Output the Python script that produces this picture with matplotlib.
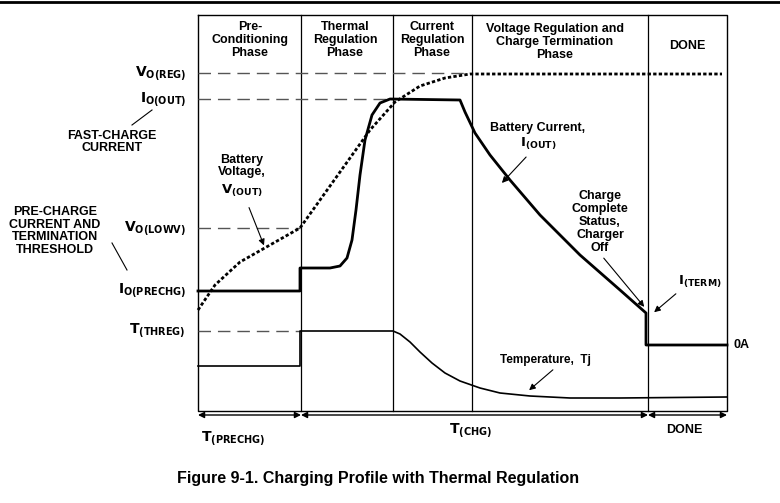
import matplotlib.pyplot as plt

plt.rcParams['font.family'] = ['Liberation Sans', 'DejaVu Sans']

# drawing works in picture pixels (x right, y down)
box_x = [198, 727]
box_y = [15, 411]
dividers = [301, 393, 472, 648]

volt_x = [198, 215, 240, 270, 300, 320, 345, 370, 395, 420, 445, 470, 722]
volt_y = [310, 285, 262, 245, 228, 200, 165, 130, 102, 86, 78, 74, 74]

curr_x = [198, 300, 300, 330, 340, 347, 352, 356, 360, 365, 372, 380, 390, 460, 465, 475, 490, 510, 540, 580, 620, 646, 646, 727]
curr_y = [291, 291, 268, 268, 266, 258, 240, 210, 175, 140, 115, 103, 99, 100, 112, 133, 155, 180, 215, 255, 290, 313, 345, 345]

temp_x = [198, 300, 300, 393, 400, 410, 420, 432, 445, 460, 480, 500, 530, 570, 620, 727]
temp_y = [366, 366, 331, 331, 334, 342, 352, 363, 373, 381, 388, 393, 396, 398, 398, 397]

fig = plt.figure(figsize=(7.8, 5.03), dpi=100)
ax = fig.add_axes([0, 0, 1, 1])
ax.set_xlim(0, 780)
ax.set_ylim(503, 0)
ax.axis('off')

ax.plot([0, 780], [2, 2], color='black', lw=2)
ax.plot([box_x[0], box_x[1], box_x[1], box_x[0], box_x[0]],
        [box_y[0], box_y[0], box_y[1], box_y[1], box_y[0]], color='black', lw=1)
for d in dividers:
    ax.plot([d, d], box_y, color='black', lw=0.9)

dash = dict(color='#555555', lw=1, dashes=(9, 5))
ax.plot([198, 470], [73, 73], **dash)
ax.plot([198, 390], [99, 99], **dash)
ax.plot([198, 300], [228, 228], **dash)
ax.plot([198, 300], [331, 331], **dash)

ax.plot(volt_x, volt_y, color='black', lw=2, ls=(0, (1.2, 0.8)))
ax.plot(curr_x, curr_y, color='black', lw=2)
ax.plot(temp_x, temp_y, color='black', lw=1.2)

bold = dict(fontweight='bold', fontsize=9, ha='center', va='center', linespacing=1.1)
ax.text(250, 40, 'Pre-\nConditioning\nPhase', **bold)
ax.text(345, 40, 'Thermal\nRegulation\nPhase', **bold)
ax.text(432, 40, 'Current\nRegulation\nPhase', **bold)
ax.text(555, 42, 'Voltage Regulation and\nCharge Termination\nPhase', **bold)
ax.text(687, 46, 'DONE', **bold)

ax.text(186, 73, r'$\mathbf{V_{O(REG)}}$', fontsize=10, ha='right', va='center')
ax.text(186, 99, r'$\mathbf{I_{O(OUT)}}$', fontsize=10, ha='right', va='center')
ax.text(186, 228, r'$\mathbf{V_{O(LOWV)}}$', fontsize=10, ha='right', va='center')
ax.text(186, 291, r'$\mathbf{I_{O(PRECHG)}}$', fontsize=10, ha='right', va='center')
ax.text(186, 331, r'$\mathbf{T_{(THREG)}}$', fontsize=10, ha='right', va='center')
ax.text(112, 142, 'FAST-CHARGE\nCURRENT', **bold)
ax.text(55, 231, 'PRE-CHARGE\nCURRENT AND\nTERMINATION\nTHRESHOLD', **bold)
ax.text(242, 166, 'Battery\nVoltage,', **bold)
ax.text(242, 191, r'$\mathbf{V_{(OUT)}}$', fontsize=9.5, ha='center', va='center')
ax.text(538, 128, 'Battery Current,', **bold)
ax.text(538, 144, r'$\mathbf{I_{(OUT)}}$', fontsize=9.5, ha='center', va='center')
ax.text(600, 222, 'Charge\nComplete\nStatus,\nCharger\nOff', **bold)
ax.text(700, 282, r'$\mathbf{I_{(TERM)}}$', fontsize=9.5, ha='center', va='center')
ax.text(741, 345, '0A', **bold)
ax.text(545, 360, 'Temperature,  Tj', fontweight='bold', fontsize=8.5, ha='center', va='center')

ax.plot([152, 132], [110, 125], color='black', lw=0.8)
ax.plot([112, 127], [243, 270], color='black', lw=0.8)
arr = dict(arrowstyle='-|>', color='black', lw=0.8, mutation_scale=9)
ax.annotate('', xy=(265, 248), xytext=(248, 205), arrowprops=arr)
ax.annotate('', xy=(500, 185), xytext=(528, 155), arrowprops=arr)
ax.annotate('', xy=(646, 309), xytext=(602, 256), arrowprops=arr)
ax.annotate('', xy=(652, 314), xytext=(678, 292), arrowprops=arr)
ax.annotate('', xy=(527, 392), xytext=(555, 368), arrowprops=arr)

dbl = dict(arrowstyle='<|-|>', color='black', lw=1, mutation_scale=9, shrinkA=0, shrinkB=0)
ax.annotate('', xy=(198, 415), xytext=(301, 415), arrowprops=dbl)
ax.annotate('', xy=(301, 415), xytext=(648, 415), arrowprops=dbl)
ax.annotate('', xy=(648, 415), xytext=(727, 415), arrowprops=dbl)
ax.text(233, 438, r'$\mathbf{T_{(PRECHG)}}$', fontsize=10, ha='center', va='center')
ax.text(470, 430, r'$\mathbf{T_{(CHG)}}$', fontsize=10, ha='center', va='center')
ax.text(684, 430, 'DONE', **bold)

ax.text(378, 478, 'Figure 9-1. Charging Profile with Thermal Regulation',
        fontweight='bold', fontsize=11.5, ha='center', va='center')

fig.savefig('out.png', dpi=100)
